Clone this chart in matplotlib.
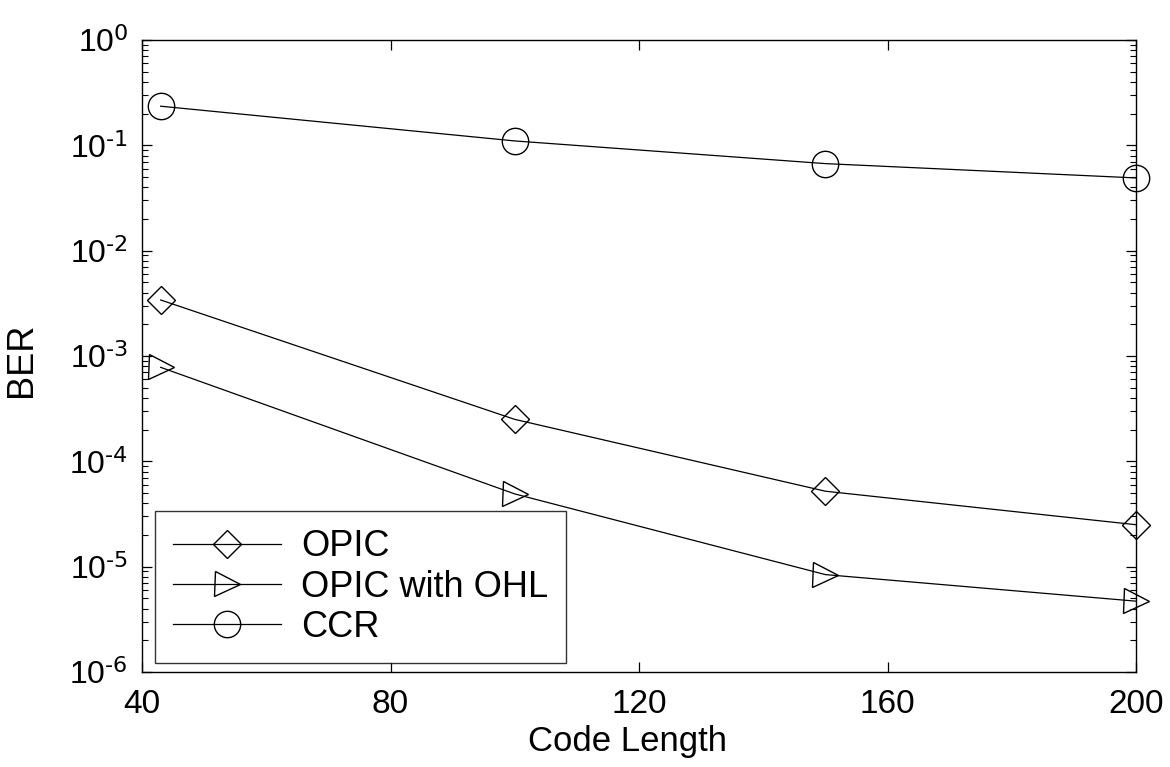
import numpy as np
import matplotlib
matplotlib.use('Agg')
import matplotlib.pyplot as plt
from matplotlib.ticker import FixedLocator, NullFormatter, FuncFormatter

plt.rcParams['font.family'] = ['Liberation Sans', 'DejaVu Sans']
plt.rcParams['axes.unicode_minus'] = False

# === data ===
code_length = [43, 100, 150, 200]
ber_opic = [3.4e-3, 2.5e-4, 5.2e-5, 2.5e-5]
ber_opic_ohl = [7.8e-4, 4.9e-5, 8.4e-6, 4.7e-6]
ber_ccr = [0.235, 0.11, 0.067, 0.049]

x_ticks = [40, 80, 120, 160, 200]
y_exponents = [-6, -5, -4, -3, -2, -1, 0]

fig = plt.figure(figsize=(11.7, 7.67), dpi=100)
ax = fig.add_axes([0.1214, 0.1239, 0.8496, 0.8240])

style = dict(color='black', linewidth=0.9, markerfacecolor='none',
             markeredgecolor='black', markeredgewidth=1.0, clip_on=False)
ax.semilogy(code_length, ber_opic, marker='D', markersize=14, label='OPIC', **style)
ax.semilogy(code_length, ber_opic_ohl, marker='>', markersize=18, label='OPIC with OHL', **style)
ax.semilogy(code_length, ber_ccr, marker='o', markersize=19, label='CCR', **style)

ax.set_xlim(40, 200)
ax.set_ylim(1e-6, 1)
ax.set_xticks(x_ticks)

# decades + MATLAB-like minor ticks between them
major = [10.0 ** e for e in y_exponents]
minor = [m * 10.0 ** e for e in y_exponents[:-1] for m in range(2, 10)]
ax.yaxis.set_major_locator(FixedLocator(major))
ax.yaxis.set_minor_locator(FixedLocator(minor))
ax.yaxis.set_minor_formatter(NullFormatter())


def decade_label(v, pos):
    e = int(round(np.log10(v)))
    return r'$\mathdefault{10^{\text{%d}}}$' % e


ax.yaxis.set_major_formatter(FuncFormatter(decade_label))

ax.tick_params(which='both', direction='in', top=True, right=True)
ax.tick_params(which='major', length=7, width=0.9)
ax.tick_params(which='minor', length=4, width=0.8)
ax.tick_params(axis='x', pad=12, labelsize=24)
ax.tick_params(axis='y', pad=10, labelsize=23)
for s in ax.spines.values():
    s.set_linewidth(1.0)

# axis titles placed like the original
fig.text(22 / 1170, 1 - 360 / 767, 'BER', rotation=90, fontsize=26,
         ha='center', va='center')
fig.text(627 / 1170, 1 - 742 / 767, 'Code Length', fontsize=25,
         ha='center', va='center')

leg = ax.legend(loc='lower left', fontsize=26, frameon=True, fancybox=False,
                edgecolor='black', handlelength=3.0, borderpad=0.5,
                labelspacing=0.15, handletextpad=0.55, borderaxespad=0,
                bbox_to_anchor=(0.013, 0.014))
leg.get_frame().set_linewidth(1.0)

fig.savefig('out.png', dpi=100)
